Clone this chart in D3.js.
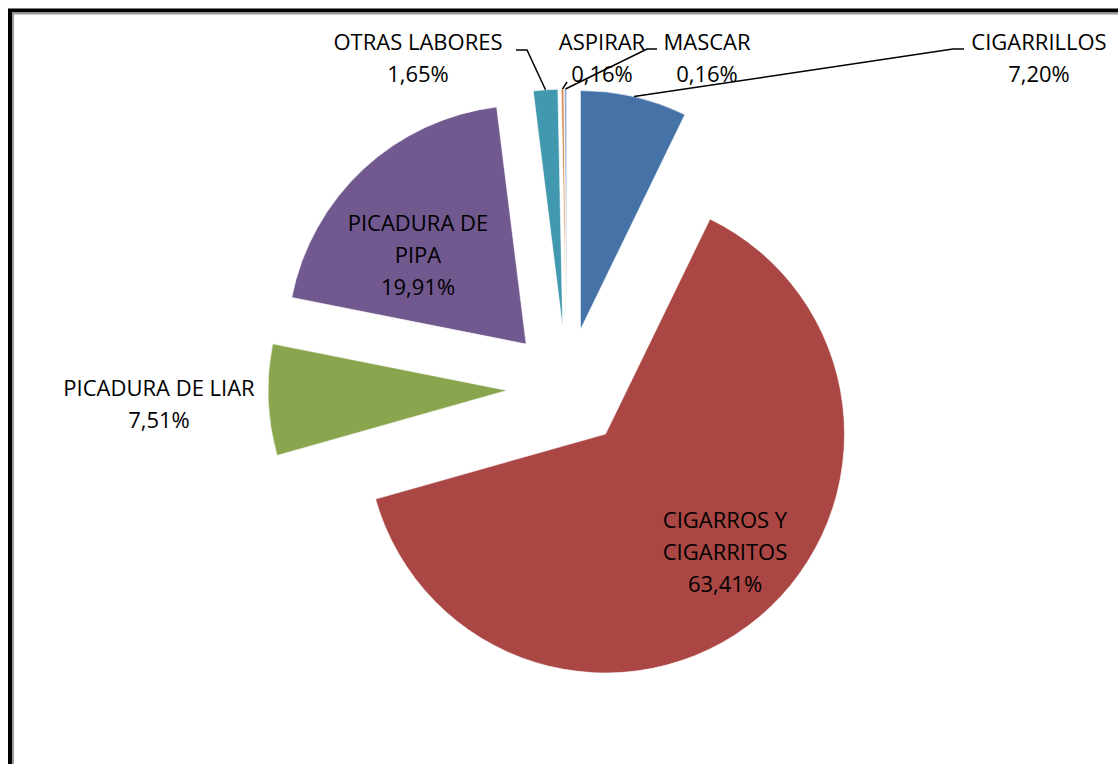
<!DOCTYPE html>
<html>
<head>
<meta charset="utf-8">
<script src="https://cdn.jsdelivr.net/npm/d3@7"></script>
<style>
  html, body { margin: 0; padding: 0; background: #fff; overflow: hidden; }
  text { font-family: "Open Sans", sans-serif; font-size: 22px; fill: #000; }
</style>
</head>
<body>
<div id="chart"></div>
<script>
// data
var categories = ["CIGARRILLOS", "CIGARROS Y CIGARRITOS", "PICADURA DE LIAR", "PICADURA DE PIPA", "OTRAS LABORES", "ASPIRAR", "MASCAR"];
var values = [7.20, 63.41, 7.51, 19.91, 1.65, 0.16, 0.16];
var valueLabels = ["7,20%", "63,41%", "7,51%", "19,91%", "1,65%", "0,16%", "0,16%"];
var labelLines = [["CIGARRILLOS"], ["CIGARROS Y", "CIGARRITOS"], ["PICADURA DE LIAR"], ["PICADURA DE", "PIPA"], ["OTRAS LABORES"], ["ASPIRAR"], ["MASCAR"]];
var colors = ["#4572A7", "#AA4643", "#89A54E", "#71588F", "#4198AF", "#DB843D", "#93A9CF"];

// layout of the labels (center x, first baseline, leader elbow)
var labelPos = [
  {x: 1039, y: 50, leader: [[953, 49], [964, 49]]},
  {x: 725, y: 528, leader: null},
  {x: 159, y: 396, leader: null},
  {x: 418, y: 231, leader: null},
  {x: 418, y: 50, leader: [[527, 50], [516, 50]]},
  {x: 602, y: 50, leader: [[567, 82]]},
  {x: 707, y: 50, leader: [[647, 49], [657, 49]]}
];

var width = 1118, height = 764,
    cx = 567, cy = 388,
    radius = 239, explode = 60,
    lineH = 32;

var svg = d3.select("#chart").append("svg")
    .attr("width", width)
    .attr("height", height);

svg.append("rect")
    .attr("width", width).attr("height", height)
    .attr("fill", "#fff");

// chart frame (runs past the right and bottom edges)
svg.append("rect")
    .attr("x", 10).attr("y", 10.5)
    .attr("width", width + 20).attr("height", height + 20)
    .attr("fill", "none")
    .attr("stroke", "#000")
    .attr("stroke-width", 4);
svg.append("rect")
    .attr("x", 13).attr("y", 13.5)
    .attr("width", width + 20).attr("height", height + 20)
    .attr("fill", "none")
    .attr("stroke", "#9a9a9a")
    .attr("stroke-width", 2);

var data = categories.map(function(c, i) {
  return {name: c, value: values[i], label: valueLabels[i], lines: labelLines[i], color: colors[i], pos: labelPos[i]};
});

var pie = d3.pie()
    .sort(null)
    .value(function(d) { return d.value; });

var arc = d3.arc()
    .innerRadius(0)
    .outerRadius(radius);

var arcs = pie(data);

function offset(d) {
  var a = (d.startAngle + d.endAngle) / 2;
  return [cx + explode * Math.sin(a), cy - explode * Math.cos(a)];
}

var g = svg.append("g");

g.selectAll("path.slice")
    .data(arcs)
    .enter()
    .append("path")
    .attr("class", "slice")
    .attr("transform", function(d) { var o = offset(d); return "translate(" + o[0] + "," + o[1] + ")"; })
    .attr("d", arc)
    .attr("fill", function(d) { return d.data.color; })
    .attr("stroke", "#fff")
    .attr("stroke-width", 0.6);

// leader lines from the middle of each slice's rim
var line = d3.line();
g.selectAll("path.leader")
    .data(arcs.filter(function(d) { return d.data.pos.leader; }))
    .enter()
    .append("path")
    .attr("class", "leader")
    .attr("fill", "none")
    .attr("stroke", "#000")
    .attr("stroke-width", 1.5)
    .attr("d", function(d) {
      var o = offset(d), a = (d.startAngle + d.endAngle) / 2;
      var start = [o[0] + radius * Math.sin(a), o[1] - radius * Math.cos(a)];
      return line([start].concat(d.data.pos.leader));
    });

// labels
var labels = g.selectAll("text.lbl")
    .data(arcs)
    .enter()
    .append("text")
    .attr("class", "lbl")
    .attr("text-anchor", "middle");

labels.each(function(d) {
  var t = d3.select(this);
  var rows = d.data.lines.concat([d.data.label]);
  rows.forEach(function(r, i) {
    t.append("tspan")
      .attr("x", d.data.pos.x)
      .attr("y", d.data.pos.y + i * lineH)
      .text(r);
  });
});
</script>
</body>
</html>
